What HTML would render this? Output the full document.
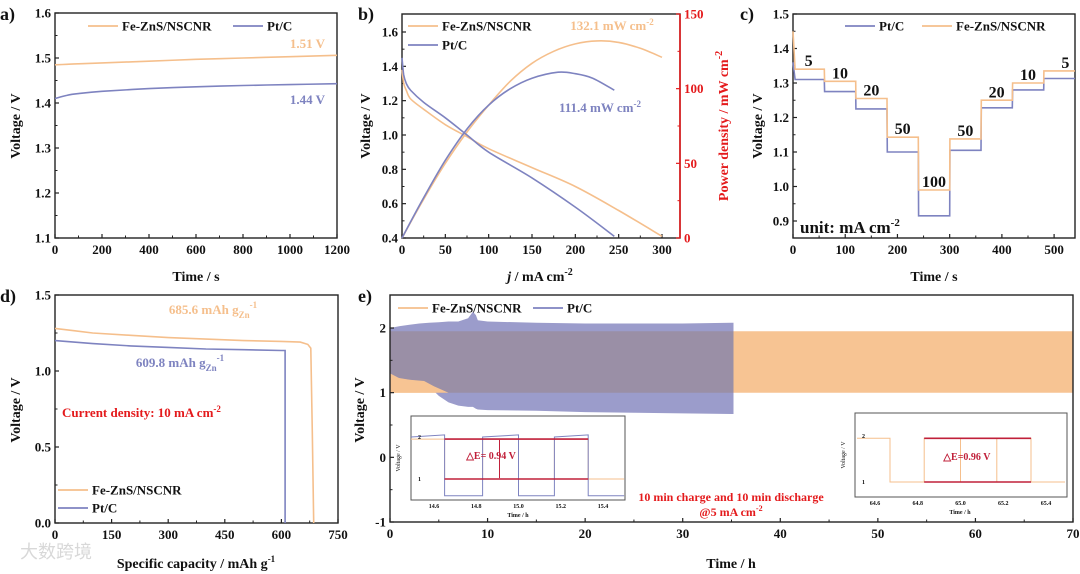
<!DOCTYPE html>
<html><head><meta charset="utf-8">
<style>
html,body{margin:0;padding:0;background:#fff;}
svg{display:block;font-family:"Liberation Serif",serif;font-weight:bold;}
</style></head>
<body>
<svg id="fig" width="1080" height="574" viewBox="0 0 1080 574" xmlns="http://www.w3.org/2000/svg"></svg>
<script>
// ---------- data ----------
// panel a
const aTime = [0, 50, 100, 200, 400, 600, 800, 1000, 1200];
const aFe = [1.485, 1.486, 1.487, 1.489, 1.493, 1.497, 1.500, 1.503, 1.506];
const aPt = [1.410, 1.417, 1.421, 1.426, 1.432, 1.436, 1.439, 1.441, 1.443];
const aXTicks = [0, 200, 400, 600, 800, 1000, 1200];
const aYTicks = [1.1, 1.2, 1.3, 1.4, 1.5, 1.6];
// panel b
const bJFe = [0, 2, 5, 10, 25, 50, 75, 100, 150, 200, 250, 300];
const bVFe = [1.38, 1.30, 1.26, 1.21, 1.15, 1.06, 0.99, 0.92, 0.81, 0.70, 0.56, 0.41];
const bPJFe = [0, 25, 50, 75, 100, 125, 150, 175, 200, 225, 250, 275, 300];
const bPFe = [0, 26, 50, 71, 89, 105, 117, 125, 130, 132, 131, 127, 121];
const bJPt = [0, 2, 5, 10, 25, 50, 75, 100, 150, 200, 245];
const bVPt = [1.45, 1.35, 1.30, 1.26, 1.19, 1.10, 1.00, 0.90, 0.75, 0.58, 0.41];
const bPJPt = [0, 25, 50, 75, 100, 125, 150, 180, 200, 220, 245];
const bPPt = [0, 27, 52, 73, 89, 100, 107, 111, 110, 107, 99];
const bXTicks = [0, 50, 100, 150, 200, 250, 300];
const bYTicks = [0.4, 0.6, 0.8, 1.0, 1.2, 1.4, 1.6];
const bY2Ticks = [0, 50, 100, 150];
// panel c
const cStepT = [0, 60, 120, 180, 240, 300, 360, 420, 480, 540];
const cCurrent = ["5", "10", "20", "50", "100", "50", "20", "10", "5"];
const cFe = [1.34, 1.305, 1.255, 1.143, 0.99, 1.138, 1.25, 1.30, 1.335];
const cPt = [1.31, 1.275, 1.225, 1.10, 0.915, 1.105, 1.228, 1.28, 1.313];
const cXTicks = [0, 100, 200, 300, 400, 500];
const cYTicks = [0.9, 1.0, 1.1, 1.2, 1.3, 1.4, 1.5];
// panel d
const dCapFe = [0, 50, 100, 200, 300, 400, 500, 600, 650, 670, 678, 682, 685.6];
const dVFe = [1.28, 1.265, 1.25, 1.235, 1.22, 1.21, 1.20, 1.195, 1.19, 1.175, 1.15, 0.6, 0];
const dCapPt = [0, 100, 200, 300, 400, 500, 600, 609.8, 609.8];
const dVPt = [1.20, 1.18, 1.165, 1.155, 1.145, 1.14, 1.135, 1.135, 0];
const dXTicks = [0, 150, 300, 450, 600, 750];
const dYTicks = [0.0, 0.5, 1.0, 1.5];
// panel e
const eT = [0, 1, 2, 3, 4, 5, 6, 7, 8, 8.5, 8.8, 9, 10, 15, 20, 25, 30, 35, 35.2];
const ePtUp = [2.0, 2.03, 2.05, 2.07, 2.08, 2.09, 2.1, 2.1, 2.15, 2.25, 2.2, 2.12, 2.1, 2.08, 2.07, 2.07, 2.07, 2.08, 2.08];
const ePtLow = [1.3, 1.22, 1.2, 1.18, 1.1, 0.95, 0.85, 0.8, 0.78, 0.78, 0.75, 0.74, 0.73, 0.72, 0.7, 0.69, 0.68, 0.67, 0.67];
const eFeT = [0, 70];
const eFeUp = [1.95, 1.95];
const eFeLow = [1.0, 1.0];
const eFeEarlyT = [0, 2, 3.5, 4.5, 6];
const eFeEarlyLow = [1.0, 1.0, 1.0, 1.0, 1.0];
const eFeEarlyUp = [1.25, 1.2, 1.18, 1.1, 1.0];
const eXTicks = [0, 10, 20, 30, 40, 50, 60, 70];
const eYTicks = [-1, 0, 1, 2];
// insets
const i1Switch = [14.48, 14.65, 14.83, 15.0, 15.17, 15.33, 15.5];
const i1PtHigh = [2.0, 2.05];
const i1PtLow = 0.6;
const i1FeHigh = 1.95, i1FeLow = 1.0;
const i1XTicks = [14.6, 14.8, 15.0, 15.2, 15.4];
const i2Switch = [64.45, 64.67, 64.83, 65.0, 65.17, 65.33, 65.5];
const i2XTicks = [64.6, 64.8, 65.0, 65.2, 65.4];

// ---------- helpers ----------
const NS = "http://www.w3.org/2000/svg";
const svg = document.getElementById("fig");
const OR = "#f5bf8c", PU = "#7e83c0", RED = "#e41a1c";
function mk(tag, attrs, parent) {
  const e = document.createElementNS(NS, tag);
  for (const k in attrs) e.setAttribute(k, attrs[k]);
  (parent || svg).appendChild(e);
  return e;
}
function scale(d0, d1, r0, r1) { return v => r0 + (v - d0) / (d1 - d0) * (r1 - r0); }
function txt(x, y, s, size, fill, anchor, name, parent, extra) {
  const t = mk("text", Object.assign({x: x, y: y, "font-size": size, fill: fill || "#111", "text-anchor": anchor || "middle"}, extra || {}), parent);
  t.innerHTML = s;
  
  
  return t;
}
function line(xs, ys, sx, sy, color, name, w, smooth) {
  const P = xs.map((v, i) => [sx(v), sy(ys[i])]);
  let d;
  if (smooth && P.length > 2) {
    d = "M" + P[0][0].toFixed(1) + "," + P[0][1].toFixed(1);
    for (let i = 0; i < P.length - 1; i++) {
      const p0 = P[Math.max(i - 1, 0)], p1 = P[i], p2 = P[i + 1], p3 = P[Math.min(i + 2, P.length - 1)];
      const c1 = [p1[0] + (p2[0] - p0[0]) / 6, p1[1] + (p2[1] - p0[1]) / 6];
      const c2 = [p2[0] - (p3[0] - p1[0]) / 6, p2[1] - (p3[1] - p1[1]) / 6];
      d += "C" + c1.map(v => v.toFixed(1)).join(",") + " " + c2.map(v => v.toFixed(1)).join(",") + " " + p2.map(v => v.toFixed(1)).join(",");
    }
  } else {
    d = P.map((p, i) => (i ? "L" : "M") + p[0].toFixed(1) + "," + p[1].toFixed(1)).join("");
  }
  const p = mk("path", {d: d, fill: "none", stroke: color, "stroke-width": w || 1.6});
  
  
  return p;
}
function frame(x0, y0, x1, y1, name) {
  const r = mk("rect", {x: x0, y: y0, width: x1 - x0, height: y1 - y0, fill: "none", stroke: "#222", "stroke-width": 1.4});
  
  
}
function xAxis(ticks, sx, y, labels, size, name, minor) {
  const g = mk("g", {});
  
  
  ticks.forEach((t, i) => {
    mk("line", {x1: sx(t), x2: sx(t), y1: y, y2: y - 4, stroke: "#222", "stroke-width": 1.2}, g);
    txt(sx(t), y + size + 3, labels ? labels[i] : t, size, "#111", "middle", "x-tick-label", g);
    if (minor && i < ticks.length - 1) {
      const m = (t + ticks[i + 1]) / 2;
      mk("line", {x1: sx(m), x2: sx(m), y1: y, y2: y - 2.5, stroke: "#222", "stroke-width": 1}, g);
    }
  });
}
function yAxis(ticks, sy, x, fmt, size, name, color, right) {
  const g = mk("g", {});
  
  
  ticks.forEach((t, i) => {
    mk("line", {x1: x, x2: right ? x - 4 : x + 4, y1: sy(t), y2: sy(t), stroke: color || "#222", "stroke-width": 1.2}, g);
    txt(right ? x + 4 : x - 4, sy(t) + size * 0.35, fmt(t), size, color || "#111", right ? "start" : "end", "y-tick-label", g);
    if (i < ticks.length - 1) {
      const m = (t + ticks[i + 1]) / 2;
      mk("line", {x1: x, x2: right ? x - 2.5 : x + 2.5, y1: sy(m), y2: sy(m), stroke: color || "#222", "stroke-width": 1}, g);
    }
  });
}
function legendLine(x, y, color, label, size, name) {
  const g = mk("g", {});
  
  
  mk("line", {x1: x, x2: x + 30, y1: y, y2: y, stroke: color, "stroke-width": 1.8}, g);
  txt(x + 34, y + size * 0.35, label, size, "#111", "start", "legend-label", g);
}
function yTitle(x, y, s, color, name) {
  txt(x, y, s, 14, color || "#111", "middle", name, null, {transform: "rotate(-90 " + x + " " + y + ")"});
}
const f1 = v => v.toFixed(1);

// ---------- panel a ----------
{
  const sx = scale(0, 1200, 55, 337), sy = scale(1.1, 1.6, 238, 13);
  frame(55, 13, 337, 238, "panel-a-frame");
  xAxis(aXTicks, sx, 238, null, 13, "panel-a-x-axis", true);
  yAxis(aYTicks, sy, 55, f1, 13, "panel-a-y-axis");
  line(aTime, aFe, sx, sy, OR, "panel-a-fe-line", 1.6, true);
  line(aTime, aPt, sx, sy, PU, "panel-a-pt-line", 1.6, true);
  legendLine(88, 26, OR, "Fe-ZnS/NSCNR", 13, "panel-a-legend-fe");
  legendLine(233, 26, PU, "Pt/C", 13, "panel-a-legend-pt");
  txt(325, 48, "1.51 V", 13, OR, "end", "panel-a-fe-annotation");
  txt(325, 104, "1.44 V", 13, PU, "end", "panel-a-pt-annotation");
  txt(196, 281, "Time / s", 14, "#111", "middle", "panel-a-x-title");
  yTitle(20, 126, "Voltage / V", null, "panel-a-y-title");
  txt(0, 20, "a)", 18, "#111", "start", "panel-a-letter");
}
// ---------- panel b ----------
{
  const sx = scale(0, 300, 402, 662), sy = scale(0.4, 1.6, 238, 32), sy2 = scale(0, 150, 238, 14);
  frame(402, 14, 680, 238, "panel-b-frame");
  xAxis(bXTicks, sx, 238, null, 13, "panel-b-x-axis", true);
  yAxis(bYTicks, sy, 402, f1, 13, "panel-b-y-axis");
  mk("line", {x1: 680, x2: 680, y1: 14, y2: 238, stroke: RED, "stroke-width": 1.6});
  yAxis(bY2Ticks, sy2, 680, v => v, 13, "panel-b-y2-axis", RED, true);
  line(bJFe, bVFe, sx, sy, OR, "panel-b-fe-voltage", 1.6, true);
  line(bPJFe, bPFe, sx, sy2, OR, "panel-b-fe-power", 1.6, true);
  line(bJPt, bVPt, sx, sy, PU, "panel-b-pt-voltage", 1.6, true);
  line(bPJPt, bPPt, sx, sy2, PU, "panel-b-pt-power", 1.6, true);
  legendLine(408, 26, OR, "Fe-ZnS/NSCNR", 13, "panel-b-legend-fe");
  legendLine(408, 45, PU, "Pt/C", 13, "panel-b-legend-pt");
  txt(612, 30, "132.1 mW cm<tspan font-size='9' dy='-5'>-2</tspan>", 13, OR, "middle", "panel-b-fe-peak");
  txt(600, 112, "111.4 mW cm<tspan font-size='9' dy='-5'>-2</tspan>", 13, PU, "middle", "panel-b-pt-peak");
  txt(540, 281, "<tspan font-style='italic'>j</tspan> / mA cm<tspan font-size='10' dy='-6'>-2</tspan>", 14, "#111", "middle", "panel-b-x-title");
  yTitle(370, 126, "Voltage / V", null, "panel-b-y-title");
  yTitle(728, 126, "Power density / mW cm<tspan font-size='10' dy='-6'>-2</tspan>", RED, "panel-b-y2-title");
  txt(358, 20, "b)", 18, "#111", "start", "panel-b-letter");
}
// ---------- panel c ----------
{
  const sx = scale(0, 540, 793, 1075), sy = scale(0.9, 1.5, 221, 14);
  frame(793, 14, 1075, 238, "panel-c-frame");
  xAxis(cXTicks, sx, 238, null, 13, "panel-c-x-axis", true);
  yAxis(cYTicks, sy, 793, f1, 13, "panel-c-y-axis");
  function steps(vals, first) {
    const xs = [0], ys = [first];
    vals.forEach((v, i) => { xs.push(cStepT[i] + (i === 0 ? 4 : 0.5)); ys.push(v); xs.push(cStepT[i + 1]); ys.push(v); });
    return [xs, ys];
  }
  let s = steps(cPt, 1.36); line(s[0], s[1], sx, sy, PU, "panel-c-pt-line");
  s = steps(cFe, 1.45); line(s[0], s[1], sx, sy, OR, "panel-c-fe-line");
  cCurrent.forEach((c, i) => {
    const mid = (cStepT[i] + cStepT[i + 1]) / 2;
    const yv = Math.max(cFe[i], cPt[i]);
    txt(sx(mid) + (i === 8 ? 6 : 0), sy(yv) - 3, c, 16, "#111", "middle", "current-label-" + c);
  });
  legendLine(845, 26, PU, "Pt/C", 13, "panel-c-legend-pt");
  legendLine(922, 26, OR, "Fe-ZnS/NSCNR", 13, "panel-c-legend-fe");
  txt(800, 233, "unit: mA cm<tspan font-size='11' dy='-7'>-2</tspan>", 17, "#111", "start", "panel-c-unit-note");
  txt(934, 281, "Time / s", 14, "#111", "middle", "panel-c-x-title");
  yTitle(762, 126, "Voltage / V", null, "panel-c-y-title");
  txt(740, 20, "c)", 18, "#111", "start", "panel-c-letter");
}
// ---------- panel d ----------
{
  const sx = scale(0, 750, 55, 338), sy = scale(0, 1.5, 523, 295);
  frame(55, 295, 338, 523, "panel-d-frame");
  xAxis(dXTicks, sx, 523, null, 13, "panel-d-x-axis", true);
  yAxis(dYTicks, sy, 55, f1, 13, "panel-d-y-axis");
  line(dCapFe, dVFe, sx, sy, OR, "panel-d-fe-line");
  line(dCapPt, dVPt, sx, sy, PU, "panel-d-pt-line");
  txt(213, 314, "685.6 mAh g<tspan font-size='9' dy='4'>Zn</tspan><tspan font-size='9' dy='-10'>-1</tspan>", 13, OR, "middle", "panel-d-fe-capacity");
  txt(180, 367, "609.8 mAh g<tspan font-size='9' dy='4'>Zn</tspan><tspan font-size='9' dy='-10'>-1</tspan>", 13, PU, "middle", "panel-d-pt-capacity");
  txt(62, 417, "Current density: 10 mA cm<tspan font-size='9' dy='-5'>-2</tspan>", 13, RED, "start", "panel-d-current-note");
  legendLine(58, 490, OR, "Fe-ZnS/NSCNR", 13, "panel-d-legend-fe");
  legendLine(58, 508, PU, "Pt/C", 13, "panel-d-legend-pt");
  txt(196, 568, "Specific capacity / mAh g<tspan font-size='9' dy='-6'>-1</tspan>", 14, "#111", "middle", "panel-d-x-title");
  yTitle(20, 410, "Voltage / V", null, "panel-d-y-title");
  txt(0, 302, "d)", 18, "#111", "start", "panel-d-letter");
  txt(20, 558, "大数跨境", 18, "#d8d8d8", "start", "watermark", null, {"font-family": "'Noto Sans CJK SC',sans-serif", "font-weight": "normal"});
}
// ---------- panel e ----------
{
  const sx = scale(0, 70, 390, 1073), sy = scale(-1, 2, 522, 328);
  function band(ts, up, low, color, name, op) {
    const pts = ts.map((t, i) => sx(t).toFixed(1) + "," + sy(up[i]).toFixed(1));
    for (let i = ts.length - 1; i >= 0; i--) pts.push(sx(ts[i]).toFixed(1) + "," + sy(low[i]).toFixed(1));
    const p = mk("polygon", {points: pts.join(" "), fill: color, "fill-opacity": op || 1});
    
    
  }
  band(eFeT, eFeUp, eFeLow, "#f7c493", "panel-e-fe-band");
  band(eT, ePtUp, ePtLow, "#9b9ccb", "panel-e-pt-band");
  const ovUp = eT.map((t, i) => Math.min(ePtUp[i], eFeUp[0]));
  const ovLow = eT.map((t, i) => Math.max(ePtLow[i], eFeLow[0]));
  band(eT, ovUp, ovLow, "#9a8fa6", "panel-e-overlap-band");
  band(eFeEarlyT, eFeEarlyUp, eFeEarlyLow, "#f7c493", "panel-e-fe-early-band");
  frame(390, 295, 1073, 522, "panel-e-frame");
  xAxis(eXTicks, sx, 522, null, 13, "panel-e-x-axis", true);
  yAxis(eYTicks, sy, 390, v => v, 13, "panel-e-y-axis");
  legendLine(398, 308, OR, "Fe-ZnS/NSCNR", 13, "panel-e-legend-fe");
  legendLine(533, 308, PU, "Pt/C", 13, "panel-e-legend-pt");
  txt(731, 501, "10 min charge and 10 min discharge", 12, RED, "middle", "panel-e-protocol-note");
  txt(731, 516, "@5 mA cm<tspan font-size='8' dy='-5'>-2</tspan>", 12, RED, "middle", "panel-e-current-note");
  txt(731, 568, "Time / h", 14, "#111", "middle", "panel-e-x-title");
  yTitle(364, 410, "Voltage / V", null, "panel-e-y-title");
  txt(358, 302, "e)", 18, "#111", "start", "panel-e-letter");

  // inset 1
  {
    const X0 = 411, X1 = 625, Y0 = 416, Y1 = 500;
    mk("rect", {x: X0, y: Y0, width: X1 - X0, height: Y1 - Y0, fill: "#fff", stroke: "#555", "stroke-width": 1});
    const ix = scale(14.6, 15.4, 434, 603), iy = scale(1, 2, 479, 437);
    const fx = [], fy = [], px = [], py = [];
    for (let i = 0; i < i1Switch.length - 1; i++) {
      const hi = i % 2 === 1;
      fx.push(i1Switch[i], i1Switch[i + 1]); fy.push(hi ? i1FeLow : i1FeHigh, hi ? i1FeLow : i1FeHigh);
      px.push(i1Switch[i], i1Switch[i + 1]); py.push(hi ? i1PtLow : i1PtHigh[0], hi ? i1PtLow : i1PtHigh[1]);
    }
    const cx = v => Math.min(Math.max(ix(v), X0), X1);
    line(fx, fy, cx, iy, OR, "inset1-fe-line", 1);
    line(px, py, cx, iy, PU, "inset1-pt-line", 1);
    mk("line", {x1: ix(14.65), x2: ix(15.33), y1: iy(1.95), y2: iy(1.95), stroke: "#c0203a", "stroke-width": 1.6});
    mk("line", {x1: ix(14.65), x2: ix(15.33), y1: iy(1.0), y2: iy(1.0), stroke: "#c0203a", "stroke-width": 1.6});
    mk("line", {x1: ix(14.91), x2: ix(14.91), y1: iy(1.93), y2: iy(1.02), stroke: "#c0203a", "stroke-width": 1});
    txt(ix(14.87), iy(1.48), "△E= 0.94 V", 10, "#c0203a", "middle", "inset1-delta-e");
    i1XTicks.forEach(t => txt(ix(t), Y1 + 8, t.toFixed(1), 6, "#111", "middle", "inset1-x-tick"));
    txt(418, iy(2) + 2, "2", 6, "#111", "start", "inset1-y-tick");
    txt(418, iy(1) + 2, "1", 6, "#111", "start", "inset1-y-tick");
    txt(518, Y1 + 17, "Time / h", 6, "#111", "middle", "inset1-x-title");
    txt(400, 458, "Voltage / V", 6, "#111", "middle", "inset1-y-title", null, {transform: "rotate(-90 400 458)", "font-weight": "normal"});
  }
  // inset 2
  {
    const X0 = 855, X1 = 1067, Y0 = 413, Y1 = 497;
    mk("rect", {x: X0, y: Y0, width: X1 - X0, height: Y1 - Y0, fill: "#fff", stroke: "#555", "stroke-width": 1});
    const ix = scale(64.6, 65.4, 875, 1046), iy = scale(1, 2, 482, 436);
    const fx = [], fy = [];
    for (let i = 0; i < i2Switch.length - 1; i++) {
      const lo = i % 2 === 1;
      fx.push(i2Switch[i], i2Switch[i + 1]); fy.push(lo ? 1.0 : 1.95, lo ? 1.0 : 1.95);
    }
    const cx = v => Math.min(Math.max(ix(v), X0 + 2), X1 - 2);
    line(fx, fy, cx, iy, OR, "inset2-fe-line", 1);
    mk("line", {x1: ix(64.83), x2: ix(65.33), y1: iy(1.95), y2: iy(1.95), stroke: "#c0203a", "stroke-width": 1.6});
    mk("line", {x1: ix(64.83), x2: ix(65.33), y1: iy(1.0), y2: iy(1.0), stroke: "#c0203a", "stroke-width": 1.6});
    txt(ix(65.03), iy(1.48), "△E=0.96 V", 10, "#c0203a", "middle", "inset2-delta-e");
    i2XTicks.forEach(t => txt(ix(t), Y1 + 8, t.toFixed(1), 6, "#111", "middle", "inset2-x-tick"));
    txt(862, iy(2) + 2, "2", 6, "#111", "start", "inset2-y-tick");
    txt(862, iy(1) + 2, "1", 6, "#111", "start", "inset2-y-tick");
    txt(960, Y1 + 17, "Time / h", 6, "#111", "middle", "inset2-x-title");
    txt(845, 455, "Voltage / V", 6, "#111", "middle", "inset2-y-title", null, {transform: "rotate(-90 845 455)", "font-weight": "normal"});
  }
}
</script>
</body></html>
